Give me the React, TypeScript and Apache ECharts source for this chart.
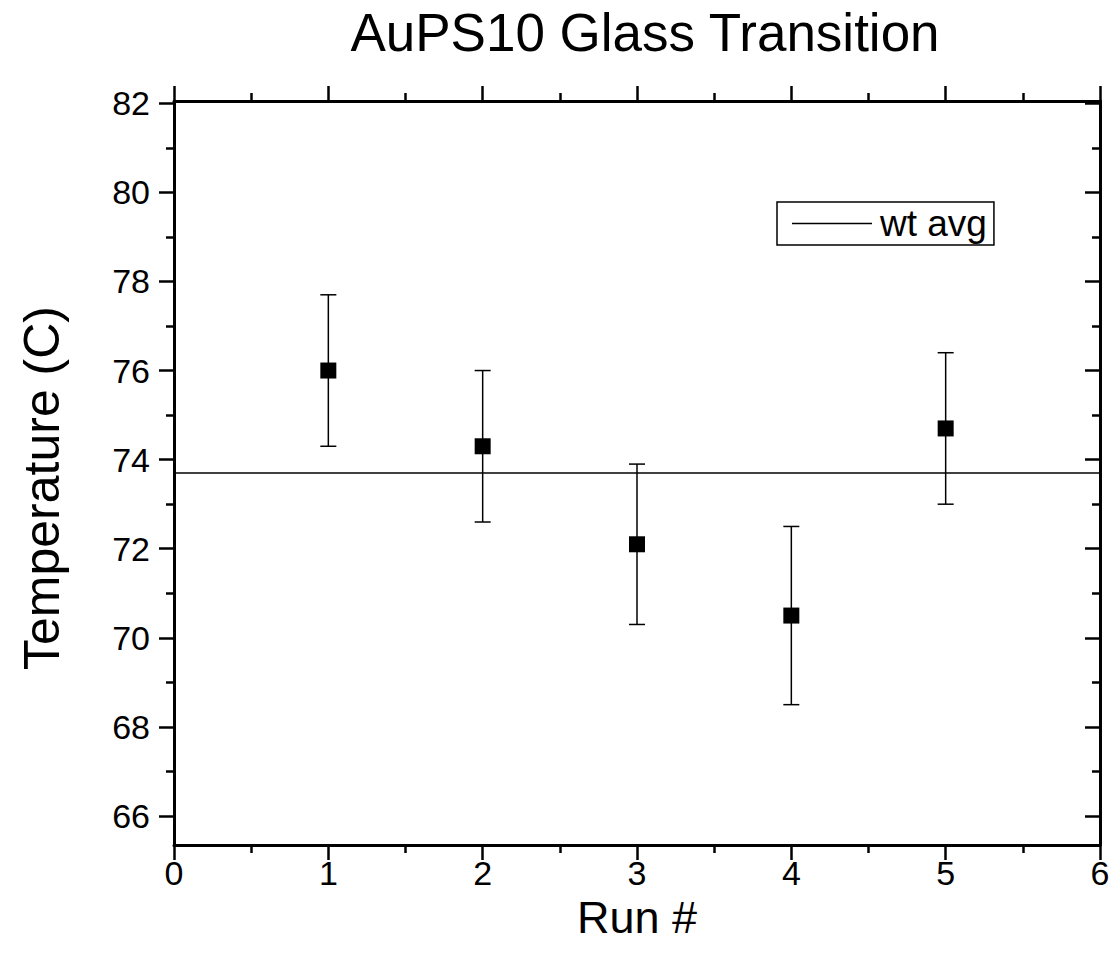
import React, { useEffect, useRef } from "react";
import * as echarts from "echarts";

const runs = [1, 2, 3, 4, 5];
const tempValues = [76.0, 74.3, 72.1, 70.5, 74.7];
const errLow = [74.3, 72.6, 70.3, 68.5, 73.0];
const errHigh = [77.7, 76.0, 73.9, 72.5, 76.4];
const wtAvg = 73.7;
const yMajorTicks = [66, 68, 70, 72, 74, 76, 78, 80, 82];
const yMinorTicks = [67, 69, 71, 73, 75, 77, 79, 81];
const xMin = 0;
const xMax = 6;
const yMin = 65.35;
const yMax = 82.05;

const FONT = "'Liberation Sans', Arial, sans-serif";
const AXIS_COLOR = "#000";

export default function App() {
  const ref = useRef<HTMLDivElement>(null);
  useEffect(() => {
    if (!ref.current) return;
    const chart = echarts.init(ref.current, null, { renderer: "svg" });
    const lineStyle = { color: AXIS_COLOR, width: 3 };
    const tickStyle = { color: AXIS_COLOR, width: 2.5 };
    const baseY = {
      type: "value",
      min: yMin,
      max: yMax,
      splitLine: { show: false },
    };
    const baseX = {
      type: "value",
      min: xMin,
      max: xMax,
      interval: 1,
      splitLine: { show: false },
    };
    chart.setOption({
      animation: false,
      textStyle: { fontFamily: FONT, color: "#000" },
      grid: { left: 174, right: 18, top: 101, bottom: 121, containLabel: false },
      graphic: [
        {
          type: "text",
          x: 645,
          y: 6,
          style: {
            text: "AuPS10 Glass Transition",
            font: `53px ${FONT}`,
            fill: "#000",
            textAlign: "center",
            textVerticalAlign: "top",
          },
        },
        {
          type: "text",
          x: 42,
          y: 488,
          rotation: Math.PI / 2,
          style: {
            text: "Temperature (C)",
            font: `50px ${FONT}`,
            fill: "#000",
            textAlign: "center",
            textVerticalAlign: "middle",
          },
        },
      ],
      legend: {
        data: [{ name: "wt avg", icon: "rect" }],
        left: 777,
        top: 202,
        orient: "horizontal",
        itemWidth: 80,
        itemHeight: 1.5,
        padding: [3, 7, 3, 15],
        borderColor: "#000",
        borderWidth: 1.5,
        itemStyle: { color: "#000" },
        textStyle: { fontSize: 37, color: "#000", fontFamily: FONT, padding: [0, 0, 0, 3] },
      },
      xAxis: [
        {
          ...baseX,
          position: "bottom",
          axisLine: { show: true, lineStyle },
          axisTick: { show: true, inside: false, length: 15, lineStyle: tickStyle },
          minorTick: { show: true, splitNumber: 2, length: 8, lineStyle: tickStyle },
          axisLabel: { show: true, fontSize: 34, color: "#000", margin: 11, fontFamily: FONT },
          name: "Run #",
          nameLocation: "middle",
          nameGap: 34,
          nameTextStyle: { fontSize: 45, color: "#000", fontFamily: FONT },
        },
        {
          ...baseX,
          position: "top",
          axisLine: { show: true, lineStyle },
          axisTick: { show: true, inside: false, length: 15, lineStyle: tickStyle },
          minorTick: { show: true, splitNumber: 2, length: 8, lineStyle: tickStyle },
          axisLabel: { show: false },
        },
      ],
      yAxis: [
        {
          ...baseY,
          position: "left",
          axisLine: { show: true, lineStyle },
          axisTick: { show: true, inside: false, length: 15, lineStyle: tickStyle, customValues: yMajorTicks },
          axisLabel: {
            show: true,
            fontSize: 34,
            color: "#000",
            margin: 24,
            fontFamily: FONT,
            customValues: yMajorTicks,
          },
        },
        {
          ...baseY,
          position: "left",
          axisLine: { show: false },
          axisTick: { show: true, inside: false, length: 8, lineStyle: tickStyle, customValues: yMinorTicks },
          axisLabel: { show: false },
        },
        {
          ...baseY,
          position: "right",
          axisLine: { show: true, lineStyle },
          axisTick: { show: true, inside: true, length: 15, lineStyle: tickStyle, customValues: yMajorTicks },
          axisLabel: { show: false },
        },
        {
          ...baseY,
          position: "right",
          axisLine: { show: false },
          axisTick: { show: true, inside: true, length: 8, lineStyle: tickStyle, customValues: yMinorTicks },
          axisLabel: { show: false },
        },
      ],
      series: [
        {
          type: "line",
          name: "wt avg",
          xAxisIndex: 0,
          yAxisIndex: 0,
          data: [
            [xMin, wtAvg],
            [xMax, wtAvg],
          ],
          symbol: "none",
          lineStyle: { color: "#000", width: 1.5 },
          itemStyle: { color: "#000" },
          z: 1,
        },
        {
          type: "custom",
          name: "error",
          xAxisIndex: 0,
          yAxisIndex: 0,
          data: runs.map((r, i) => [r, errLow[i], errHigh[i]]),
          renderItem: (params: any, api: any) => {
            const x = api.value(0);
            const lo = api.coord([x, api.value(1)]);
            const hi = api.coord([x, api.value(2)]);
            const half = 8;
            const st = { stroke: "#000", lineWidth: 1.5 };
            return {
              type: "group",
              children: [
                { type: "line", shape: { x1: lo[0], y1: lo[1], x2: hi[0], y2: hi[1] }, style: st },
                { type: "line", shape: { x1: lo[0] - half, y1: lo[1], x2: lo[0] + half, y2: lo[1] }, style: st },
                { type: "line", shape: { x1: hi[0] - half, y1: hi[1], x2: hi[0] + half, y2: hi[1] }, style: st },
              ],
            };
          },
          z: 2,
        },
        {
          type: "scatter",
          name: "Tg",
          xAxisIndex: 0,
          yAxisIndex: 0,
          data: runs.map((r, i) => [r, tempValues[i]]),
          symbol: "rect",
          symbolSize: 16,
          itemStyle: { color: "#000", opacity: 1 },
          z: 3,
        },
      ],
    });
    return () => chart.dispose();
  }, []);
  return (
    <div
      ref={ref}
      style={{ position: "fixed", left: 0, top: 0, width: 1118, height: 966, background: "#fff" }}
    />
  );
}
